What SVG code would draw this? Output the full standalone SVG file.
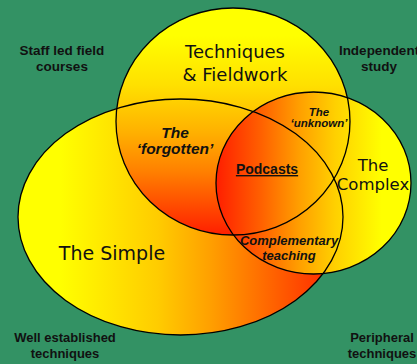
<svg xmlns="http://www.w3.org/2000/svg" width="417" height="364" viewBox="0 0 417 364">
<defs>
<linearGradient id="gSimple" gradientUnits="userSpaceOnUse" x1="18" y1="0" x2="343" y2="0">
<stop offset="0" stop-color="#ffff00"/>
<stop offset="0.13" stop-color="#ffff00"/>
<stop offset="0.43" stop-color="#ffcc00"/>
<stop offset="0.59" stop-color="#ffa000"/>
<stop offset="1" stop-color="#ff1e00"/>
</linearGradient>
<linearGradient id="gTop" gradientUnits="userSpaceOnUse" x1="0" y1="8" x2="0" y2="235">
<stop offset="0" stop-color="#ffff00"/>
<stop offset="0.12" stop-color="#ffff00"/>
<stop offset="0.34" stop-color="#ffe000"/>
<stop offset="0.55" stop-color="#ffb000"/>
<stop offset="0.72" stop-color="#ff8000"/>
<stop offset="1" stop-color="#ff1e00"/>
</linearGradient>
<linearGradient id="gComplex" gradientUnits="userSpaceOnUse" x1="216" y1="0" x2="411" y2="0">
<stop offset="0" stop-color="#ff1e00"/>
<stop offset="0.23" stop-color="#ff6000"/>
<stop offset="0.43" stop-color="#ffa000"/>
<stop offset="0.61" stop-color="#ffd000"/>
<stop offset="0.85" stop-color="#ffff00"/>
<stop offset="1" stop-color="#ffff00"/>
</linearGradient>
</defs>
<style>
.outline{fill:none;stroke:#000;stroke-width:1.3}
text{fill:#111;text-anchor:middle}
.big{font-family:"DejaVu Sans",Verdana,sans-serif}
.b{font-family:"Liberation Sans",Arial,sans-serif;font-weight:bold}
.bi{font-family:"Liberation Sans",Arial,sans-serif;font-weight:bold;font-style:italic}
</style>
<rect width="417" height="364" fill="#339264"/>
<g id="simple"><ellipse cx="180.5" cy="217" rx="162.5" ry="118" fill="url(#gSimple)"/></g>
<g id="techniques"><ellipse cx="233" cy="121.5" rx="117" ry="113.5" fill="url(#gTop)"/></g>
<g id="complex"><ellipse cx="313.5" cy="183" rx="97.5" ry="91" fill="url(#gComplex)"/></g>
<g id="outlines">
<ellipse class="outline" cx="180.5" cy="217" rx="162.5" ry="118"/>
<ellipse class="outline" cx="233" cy="121.5" rx="117" ry="113.5"/>
<ellipse class="outline" cx="313.5" cy="183" rx="97.5" ry="91"/>
</g>
<g id="label-techniques"><text class="big" font-size="18"><tspan x="235" y="58">Techniques</tspan><tspan x="235" y="81">&amp; Fieldwork</tspan></text></g>
<g id="label-simple"><text class="big" x="112" y="260" font-size="19">The Simple</text></g>
<g id="label-complex"><text class="big" font-size="16.5"><tspan x="373" y="171">The</tspan><tspan x="373" y="190">Complex</tspan></text></g>
<g id="forgotten"><text class="bi" font-size="15.5"><tspan x="175" y="138">The</tspan><tspan x="175" y="154">‘forgotten’</tspan></text></g>
<g id="unknown"><text class="bi" font-size="11.5"><tspan x="319" y="116">The</tspan><tspan x="319" y="127">‘unknown’</tspan></text></g>
<g id="podcasts"><text class="b" x="267" y="174" font-size="14" text-decoration="underline">Podcasts</text></g>
<g id="complementary"><text class="bi" font-size="13"><tspan x="289" y="245">Complementary</tspan><tspan x="289" y="260">teaching</tspan></text></g>
<g id="staff"><text class="b" font-size="13.5"><tspan x="62" y="55">Staff led field</tspan><tspan x="62" y="71">courses</tspan></text></g>
<g id="independent"><text class="b" font-size="13.5"><tspan x="379" y="55">Independent</tspan><tspan x="379" y="71">study</tspan></text></g>
<g id="well"><text class="b" font-size="13"><tspan x="65" y="342">Well established</tspan><tspan x="65" y="358">techniques</tspan></text></g>
<g id="peripheral"><text class="b" font-size="13"><tspan x="382" y="342">Peripheral</tspan><tspan x="382" y="358">techniques</tspan></text></g>
</svg>
